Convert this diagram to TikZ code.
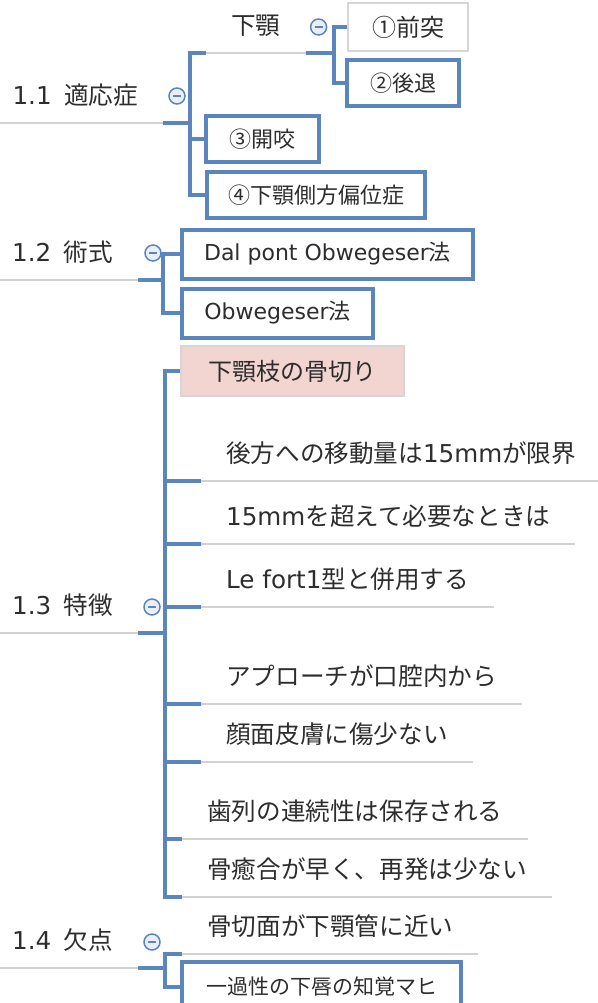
\documentclass[tikz,border=0pt]{standalone}
\usepackage{fontspec}
\setmainfont{Noto Sans CJK JP}
\newfontfamily\latfont{DejaVu Sans}
\newcommand\latn[1]{{\latfont #1}}
\usetikzlibrary{calc,positioning}
\definecolor{mapblue}{RGB}{91,133,189}
\definecolor{lineg}{RGB}{210,210,210}
\definecolor{textg}{RGB}{45,45,45}
\definecolor{pinkbg}{RGB}{242,213,209}
\definecolor{boxg}{RGB}{214,214,214}
\definecolor{togglebg}{RGB}{234,239,247}

\begin{document}
\begin{tikzpicture}[x=1pt,y=-1pt,text=textg]
    \tikzstyle{topic}=[inner xsep=25pt, inner ysep=0pt, text height=18pt, text depth=18pt, font=\fontsize{24.6}{28}\selectfont]
    \tikzstyle{bbox}=[draw=mapblue, line width=4pt, fill=white, inner sep=0pt, minimum height=46pt, font=\fontsize{22}{26}\selectfont]
    \tikzstyle{gbox}=[draw=boxg, line width=2pt, fill=white, inner sep=0pt, minimum height=48pt, font=\fontsize{24}{28}\selectfont]
    \tikzstyle{toggle}=[circle, draw=mapblue, line width=1.5pt, fill=togglebg, minimum size=16pt, inner sep=0pt,
      path picture={\draw[mapblue, line width=1.5pt] ([xshift=-4pt]path picture bounding box.center) -- ([xshift=4pt]path picture bounding box.center);}]
    \tikzstyle{branch}=[draw=mapblue, line width=4pt]
    \tikzstyle{uline}=[draw=lineg, line width=2pt]

    \useasboundingbox (0,0) rectangle (597,1003);

    % main topics
    \node[topic, anchor=south east] (p11) at (163,123) {\latn{1.1}\enspace 適応症};
    \node[topic, anchor=south east] (p12) at (138,280) {\latn{1.2}\enspace 術式};
    \node[topic, anchor=south east] (p13) at (138,633) {\latn{1.3}\enspace 特徴};
    \node[topic, anchor=south east] (p14) at (138,968) {\latn{1.4}\enspace 欠点};

    % 1.1
    \node[topic, anchor=south west] (kagaku) at (206,53) {下顎};
    \node[gbox, minimum width=120pt, anchor=west] (b1) at (347,27) {①前突};
    \node[bbox, minimum width=112pt, anchor=west] (b2) at (345,83) {②後退};
    \node[bbox, minimum width=113pt, anchor=west] (b3) at (204,139) {③開咬};
    \node[bbox, minimum width=218pt, anchor=west] (b4) at (205,195) {④下顎側方偏位症};

    % 1.2
    \node[bbox, minimum width=291pt, minimum height=49pt, anchor=west] (m1) at (180,254) {\latn{Dal pont Obwegeser}法};
    \node[bbox, minimum width=191pt, minimum height=49pt, anchor=west] (m2) at (180,313) {\latn{Obwegeser}法};

    % 1.3
    \node[gbox, fill=pinkbg, minimum width=223pt, minimum height=50pt, anchor=west] (f0) at (180,371) {下顎枝の骨切り};
    \node[topic, anchor=south west] (f1) at (201,481) {後方への移動量は\latn{15mm}が限界};
    \node[topic, anchor=south west] (f2) at (201,544) {\latn{15mm}を超えて必要なときは};
    \node[topic, anchor=south west] (f3) at (201,607) {\latn{Le fort1}型と併用する};
    \node[topic, anchor=south west] (f4) at (201,704) {アプローチが口腔内から};
    \node[topic, anchor=south west] (f5) at (201,762) {顔面皮膚に傷少ない};
    \node[topic, anchor=south west] (f6) at (182,839) {歯列の連続性は保存される};
    \node[topic, anchor=south west] (f7) at (182,897) {骨癒合が早く、再発は少ない};

    % 1.4
    \node[topic, anchor=south west] (d1) at (182,954) {骨切面が下顎管に近い};
    \node[bbox, minimum width=279pt, minimum height=50pt, font=\fontsize{21}{25}\selectfont, anchor=west] (d2) at (180,987) {一過性の下唇の知覚マヒ};

    % toggles
    \node[toggle] (t11) at ([shift={(14,-27)}]p11.south east) {};
    \node[toggle] (tkg) at ([shift={(13,-26)}]kagaku.south east) {};
    \node[toggle] (t12) at ([shift={(15,-27)}]p12.south east) {};
    \node[toggle] (t13) at ([shift={(14,-26)}]p13.south east) {};
    \node[toggle] (t14) at ([shift={(14,-26)}]p14.south east) {};

    % underlines
    \foreach \n in {p11,p12,p13,p14,kagaku,f1,f2,f3,f4,f5,f6,f7,d1}
      \draw[uline] (\n.south west) -- (\n.south east);

    % branches
    \draw[branch] (p11.south east) -- ++(27,0) |- (kagaku.south west);
    \draw[branch] (p11.south east) -- ++(27,0) |- (b3.west);
    \draw[branch] (p11.south east) -- ++(27,0) |- (b4.west);
    \draw[branch] (kagaku.south east) -- ++(28,0) |- (b1.west);
    \draw[branch] (kagaku.south east) -- ++(28,0) |- (b2.west);
    \draw[branch] (p12.south east) -- ++(25,0) |- (m1.west);
    \draw[branch] (p12.south east) -- ++(25,0) |- (m2.west);
    \draw[branch] (p13.south east) -- ++(27,0) |- (f0.west);
    \foreach \n in {f1,f2,f3,f4,f5,f6,f7}
      \draw[branch] (p13.south east) -- ++(27,0) |- (\n.south west);
    \draw[branch] (p14.south east) -- ++(27,0) |- (d1.south west);
    \draw[branch] (p14.south east) -- ++(27,0) |- (d2.west);
\end{tikzpicture}
\end{document}
